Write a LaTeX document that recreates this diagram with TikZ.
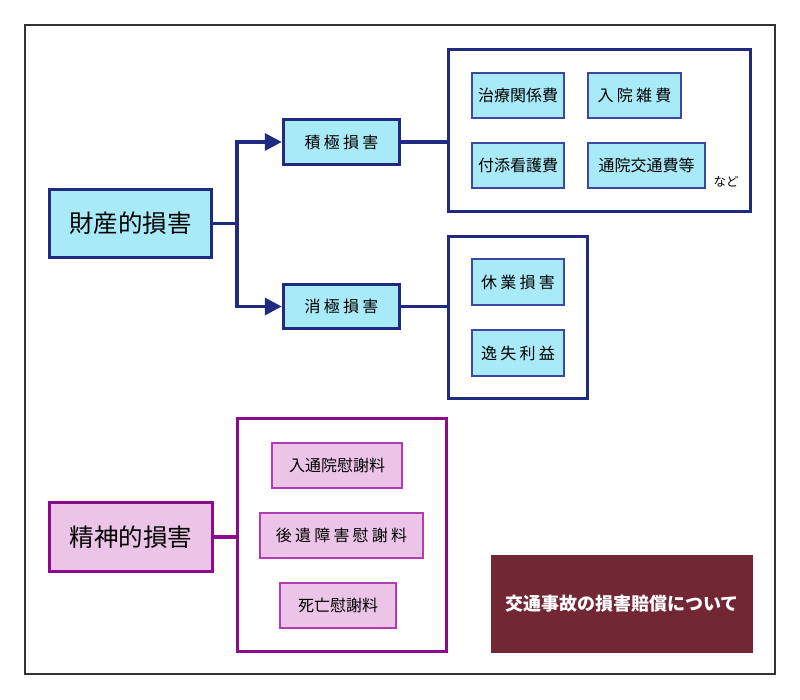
\documentclass[tikz,border=0pt]{standalone}
\usepackage{fontspec}
\setmainfont{Noto Sans CJK JP}
\newfontfamily\widefont[LetterSpace=20]{Noto Sans CJK JP}
\usetikzlibrary{arrows.meta}
\definecolor{navy}{HTML}{1F2A80}
\definecolor{navylt}{HTML}{3C48A6}
\definecolor{cyanfill}{HTML}{A9EAF8}
\definecolor{plum}{HTML}{8C0A8E}
\definecolor{plumlt}{HTML}{B23CB6}
\definecolor{pinkfill}{HTML}{ECC4E8}
\definecolor{wine}{HTML}{722735}

\begin{document}
\begin{tikzpicture}[x=1pt, y=-1pt,
  mainbox/.style={draw=navy, line width=3.5pt, fill=cyanfill, inner sep=0pt},
  subbox/.style={draw=navylt, line width=2pt, fill=cyanfill, inner sep=0pt,
    minimum height=45pt, font=\fontsize{16}{19}\selectfont},
  holder/.style={draw=navy, line width=3.5pt, inner sep=0pt},
  pmainbox/.style={draw=plum, line width=3.5pt, fill=pinkfill, inner sep=0pt},
  psubbox/.style={draw=plumlt, line width=2pt, fill=pinkfill, inner sep=0pt,
    minimum height=45pt, font=\fontsize{16}{19}\selectfont},
  pholder/.style={draw=plum, line width=3.5pt, inner sep=0pt},
  link/.style={draw=navy, line width=3.5pt},
  plink/.style={draw=plum, line width=3.5pt}]

  \useasboundingbox (0,0) rectangle (800,700);
  \draw[line width=2pt, color=black!80] (25,25) rectangle (775,674);

  %% property damage
  \node[mainbox, minimum width=162pt, minimum height=68pt, font=\fontsize{24.5}{28}\selectfont]
    (zaisan) at (130.5,223.5) {財産的損害};
  \node[mainbox, minimum width=116pt, minimum height=45pt, font=\fontsize{16}{19}\widefont]
    (sekkyoku) at (341.5,142) {積極損害};
  \node[mainbox, minimum width=116pt, minimum height=44pt, font=\fontsize{16}{19}\widefont]
    (shokyoku) at (341.5,306.5) {消極損害};

  \node[holder, minimum width=302pt, minimum height=162pt] (box1) at (599.5,130.5) {};
  \node[subbox, minimum width=92pt] (chiryo) at (518,95.5) {治療関係費};
  \node[subbox, minimum width=93pt, font=\fontsize{16}{19}\widefont] (nyuin) at (634.5,95.5) {入院雑費};
  \node[subbox, minimum width=92pt] (tsukisoi) at (518,165.5) {付添看護費};
  \node[subbox, minimum width=117pt] (tsuin) at (646.5,165.5) {通院交通費等};
  \node[font=\fontsize{12.5}{14}\selectfont] (nado) at (726,182) {など};

  \node[holder, minimum width=139pt, minimum height=162pt] (box2) at (518,317.5) {};
  \node[subbox, minimum width=92pt, minimum height=46pt, font=\fontsize{16}{19}\widefont]
    (kyugyo) at (518,282) {休業損害};
  \node[subbox, minimum width=92pt, minimum height=46pt, font=\fontsize{16}{19}\widefont]
    (isshitsu) at (518,353) {逸失利益};

  \coordinate (fork) at (237,223.5);
  \draw[link] (zaisan.east) -- (fork);
  \draw[link, -{Triangle[length=17pt, width=17pt]}] (fork) |- (sekkyoku.west);
  \draw[link, -{Triangle[length=17pt, width=17pt]}] (fork) |- (shokyoku.west);
  \draw[link] (sekkyoku.east) -- (box1.west |- sekkyoku.east);
  \draw[link] (shokyoku.east) -- (box2.west |- shokyoku.east);

  %% mental damage
  \node[pmainbox, minimum width=163pt, minimum height=69pt, font=\fontsize{24.5}{28}\selectfont]
    (seishin) at (131,537) {精神的損害};
  \node[pholder, minimum width=209pt, minimum height=233pt] (box3) at (342,535) {};
  \node[psubbox, minimum width=130pt] (tsuinisha) at (337,465.5) {入通院慰謝料};
  \node[psubbox, minimum width=163pt, font=\fontsize{16}{19}\widefont] (koisho) at (341.5,535.5) {後遺障害慰謝料};
  \node[psubbox, minimum width=116pt] (shibo) at (338,605.5) {死亡慰謝料};
  \draw[plink] (seishin.east) -- (box3.west |- seishin.east);

  %% title
  \node[fill=wine, text=white, minimum width=262pt, minimum height=98pt,
    font=\fontsize{18}{21}\selectfont\bfseries] (title) at (622,604) {交通事故の損害賠償について};
\end{tikzpicture}
\end{document}
